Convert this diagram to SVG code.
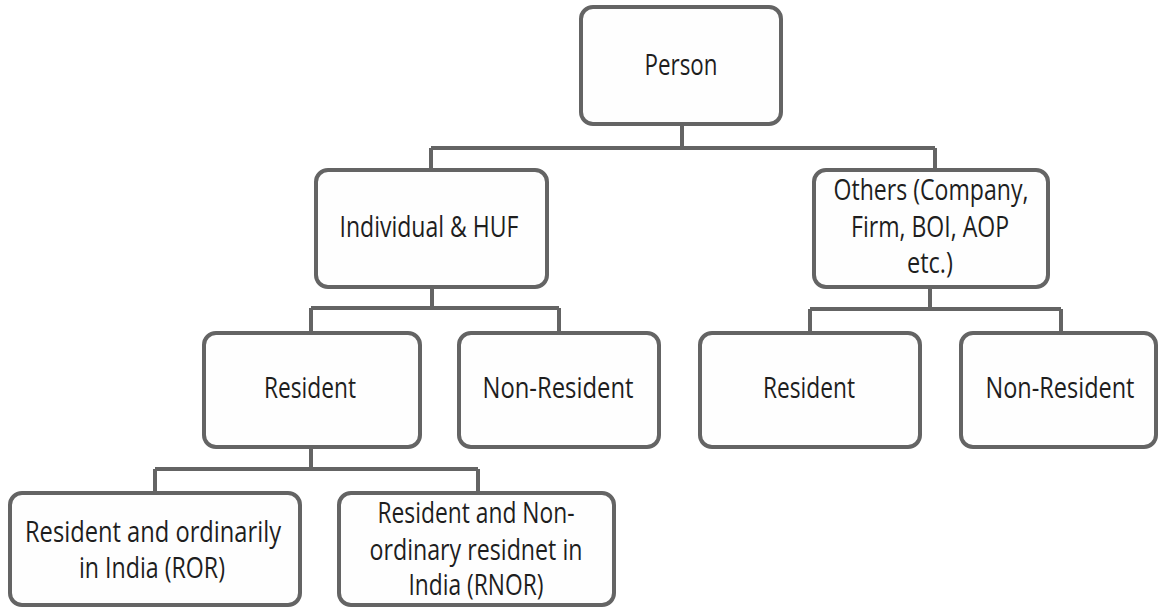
<svg xmlns="http://www.w3.org/2000/svg" width="1159" height="609" viewBox="0 0 1159 609">
<style>
.box{fill:#fefefe;stroke:#646464;stroke-width:4}
.con{fill:none;stroke:#646464;stroke-width:4}
text{font-family:"Open Sans","Liberation Sans",sans-serif;font-size:29px;fill:#1e1e1e;text-anchor:middle}
</style>
<rect width="1159" height="609" fill="#ffffff"/>
<g id="connectors">
<path class="con" d="M682 124V148M431 148H935M431 148V170M935 148V170"/>
<path class="con" d="M432 287V308M311 308H559M311 308V333M559 308V333"/>
<path class="con" d="M930 287V309M810 309H1061M810 309V333M1061 309V333"/>
<path class="con" d="M311 447V469M155 469H478M155 469V493M478 469V493"/>
</g>
<g id="person"><rect class="box" x="581" y="7" width="200" height="117" rx="12"/><text x="681" y="75" textLength="73" lengthAdjust="spacingAndGlyphs">Person</text></g>
<g id="individual"><rect class="box" x="316" y="170" width="231" height="117" rx="12"/><text x="429" y="237" textLength="179" lengthAdjust="spacingAndGlyphs">Individual &amp; HUF</text></g>
<g id="others"><rect class="box" x="814" y="170" width="234" height="117" rx="12"/>
<text x="931" y="200" textLength="195" lengthAdjust="spacingAndGlyphs">Others (Company,</text>
<text x="930" y="237" textLength="158" lengthAdjust="spacingAndGlyphs">Firm, BOI, AOP</text>
<text x="930" y="273" textLength="46" lengthAdjust="spacingAndGlyphs">etc.)</text></g>
<g id="resident1"><rect class="box" x="204" y="333" width="216" height="114" rx="12"/><text x="310" y="398" textLength="92" lengthAdjust="spacingAndGlyphs">Resident</text></g>
<g id="nonresident1"><rect class="box" x="459" y="333" width="200" height="114" rx="12"/><text x="558" y="398" textLength="151" lengthAdjust="spacingAndGlyphs">Non-Resident</text></g>
<g id="resident2"><rect class="box" x="700" y="333" width="220" height="114" rx="12"/><text x="809" y="398" textLength="92" lengthAdjust="spacingAndGlyphs">Resident</text></g>
<g id="nonresident2"><rect class="box" x="961" y="333" width="195" height="114" rx="12"/><text x="1060" y="398" textLength="149" lengthAdjust="spacingAndGlyphs">Non-Resident</text></g>
<g id="ror"><rect class="box" x="10" y="493" width="290" height="112" rx="12"/>
<text x="153" y="542" textLength="256" lengthAdjust="spacingAndGlyphs">Resident  and ordinarily</text>
<text x="152" y="578" textLength="146" lengthAdjust="spacingAndGlyphs">in India (ROR)</text></g>
<g id="rnor"><rect class="box" x="339" y="493" width="275" height="112" rx="12"/>
<text x="476" y="523" textLength="197" lengthAdjust="spacingAndGlyphs">Resident and Non-</text>
<text x="476" y="560" textLength="213" lengthAdjust="spacingAndGlyphs">ordinary residnet in</text>
<text x="476" y="595" textLength="135" lengthAdjust="spacingAndGlyphs">India (RNOR)</text></g>
</svg>
